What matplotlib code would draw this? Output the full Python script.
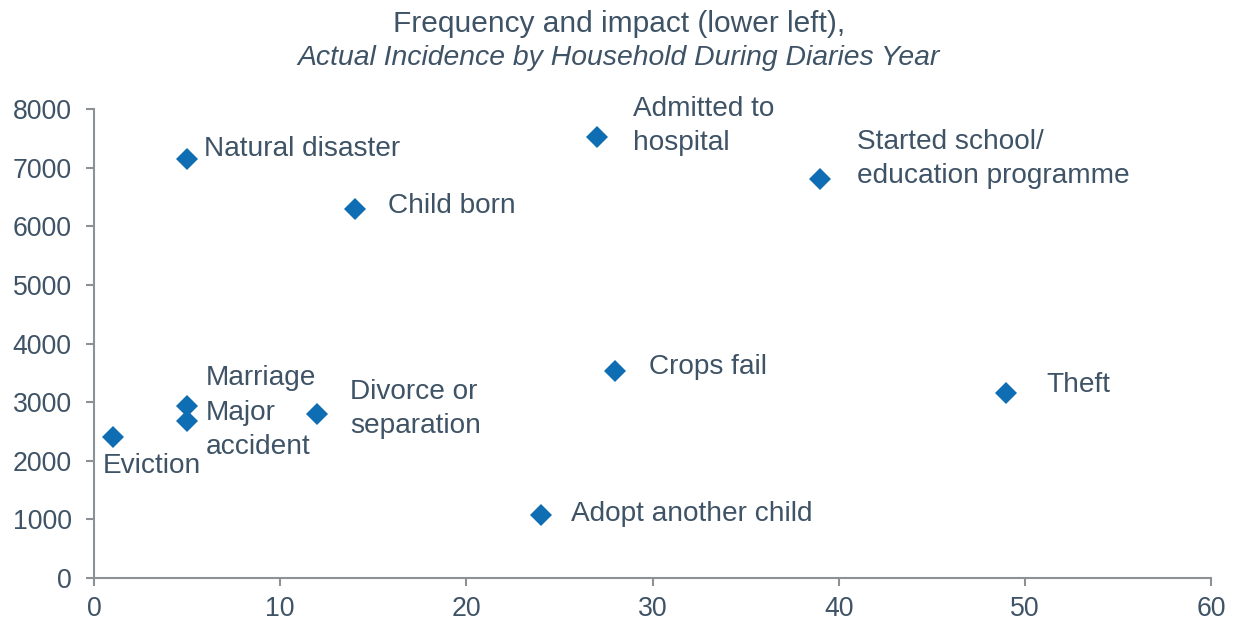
import matplotlib.pyplot as plt

# event frequency (x) and impact (y)
events = ["Eviction", "Natural disaster", "Marriage", "Major\naccident",
          "Divorce or\nseparation", "Child born", "Adopt another child",
          "Admitted to\nhospital", "Crops fail", "Started school/\neducation programme",
          "Theft"]
freq = [1, 5, 5, 5, 12, 14, 24, 27, 28, 39, 49]
impact = [2400, 7150, 2930, 2680, 2800, 6290, 1080, 7530, 3530, 6800, 3160]
# label offsets in pixels (dx, dy)
offsets = [(-10, -29), (17, 10), (19, 28), (19, -9), (33, 5), (33, 3),
           (30, 1), (36, 11), (34, 4), (37, 20), (40, 8)]

txt = '#3f5366'
axcol = '#8c9196'
blue = '#0f6db3'

plt.rcParams['font.family'] = ['Liberation Sans', 'DejaVu Sans']

fig = plt.figure(figsize=(12.38, 6.23), dpi=100)
ax = fig.add_axes([94/1238, 45/623, (1211-94)/1238, (578-109)/623])

ax.plot(freq, impact, linestyle='none', marker='D', markersize=11, color=blue,
        markeredgewidth=0, clip_on=False)

for name, x, y, (dx, dy) in zip(events, freq, impact, offsets):
    ax.annotate(name, (x, y), xytext=(dx, dy), textcoords='offset pixels',
                ha='left', va='center', fontsize=20.2, color=txt, linespacing=1.4)

ax.set_xlim(0, 60)
ax.set_ylim(0, 8000)
ax.set_xticks(range(0, 61, 10))
ax.set_yticks(range(0, 8001, 1000))
for s in ['top', 'right']:
    ax.spines[s].set_visible(False)
for s in ['left', 'bottom']:
    ax.spines[s].set_color(axcol)
    ax.spines[s].set_linewidth(1.5)
ax.tick_params(direction='out', length=6, width=1.5, color=axcol,
               labelsize=19.2, labelcolor=txt, pad=10)
ax.tick_params(axis='x', pad=7)

fig.text(0.5, 1 - 24/623, "Frequency and impact (lower left),", ha='center', va='center',
         fontsize=21.5, color=txt)
fig.text(0.5, 1 - 58/623, "Actual Incidence by Household During Diaries Year", ha='center',
         va='center', fontsize=20.4, color=txt, style='italic')

fig.savefig('out.png', dpi=100)
